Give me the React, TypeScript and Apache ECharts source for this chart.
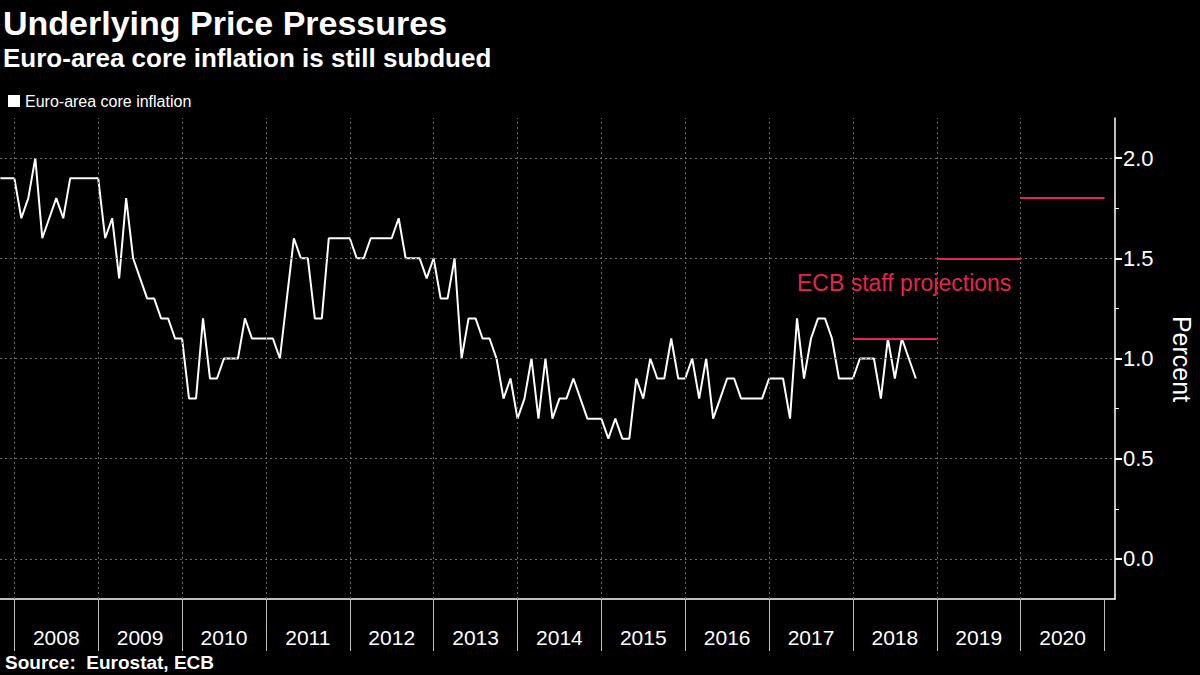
import React, { useEffect, useRef } from "react";
import * as echarts from "echarts";

// months are counted from the end of Dec 2007 (0); first value = Oct 2007
const START_MONTH = -2;
const coreInflation = [
  1.9, 1.9, 1.9,
  1.7, 1.8, 2.0, 1.6, 1.7, 1.8, 1.7, 1.9, 1.9, 1.9, 1.9, 1.9,
  1.6, 1.7, 1.4, 1.8, 1.5, 1.4, 1.3, 1.3, 1.2, 1.2, 1.1, 1.1,
  0.8, 0.8, 1.2, 0.9, 0.9, 1.0, 1.0, 1.0, 1.2, 1.1, 1.1, 1.1,
  1.1, 1.0, 1.3, 1.6, 1.5, 1.5, 1.2, 1.2, 1.6, 1.6, 1.6, 1.6,
  1.5, 1.5, 1.6, 1.6, 1.6, 1.6, 1.7, 1.5, 1.5, 1.5, 1.4, 1.5,
  1.3, 1.3, 1.5, 1.0, 1.2, 1.2, 1.1, 1.1, 1.0, 0.8, 0.9, 0.7,
  0.8, 1.0, 0.7, 1.0, 0.7, 0.8, 0.8, 0.9, 0.8, 0.7, 0.7, 0.7,
  0.6, 0.7, 0.6, 0.6, 0.9, 0.8, 1.0, 0.9, 0.9, 1.1, 0.9, 0.9,
  1.0, 0.8, 1.0, 0.7, 0.8, 0.9, 0.9, 0.8, 0.8, 0.8, 0.8, 0.9,
  0.9, 0.9, 0.7, 1.2, 0.9, 1.1, 1.2, 1.2, 1.1, 0.9, 0.9, 0.9,
  1.0, 1.0, 1.0, 0.8, 1.1, 0.9, 1.1, 1.0, 0.9,
];
const yearLabels = ["2008", "2009", "2010", "2011", "2012", "2013", "2014", "2015", "2016", "2017", "2018", "2019", "2020"];
const projYearIndex = [10, 11, 12]; // 2018, 2019, 2020
const projValues = [1.1, 1.5, 1.8];
const yTicks = [0, 0.5, 1.0, 1.5, 2.0];
const yMinorTicks = [0.25, 0.75, 1.25, 1.75];

const FONT = '"Liberation Sans", Arial, sans-serif';
const RED = "#e3264c";

export default function App() {
  const ref = useRef<HTMLDivElement>(null);
  useEffect(() => {
    document.body.style.margin = "0";
    const chart = echarts.init(ref.current!, null, { renderer: "svg" });
    const seriesData = coreInflation.map((v, i) => [START_MONTH + i, v]);
    const yearBounds = yearLabels.map((_, i) => i * 12).concat([yearLabels.length * 12]);
    const gridBounds = yearLabels.map((_, i) => i * 12);
    const labelPos = yearLabels.map((_, i) => i * 12 + 6);
    const gridStyle = { color: "#6a6a6a", type: [2, 3], width: 1 };

    chart.setOption({
      animation: false,
      backgroundColor: "#000",
      textStyle: { fontFamily: FONT },
      grid: { left: 0, right: 85, top: 118, bottom: 76 },
      legend: {
        left: 3,
        top: 88,
        icon: "rect",
        itemWidth: 12,
        itemHeight: 12,
        itemGap: 10,
        textStyle: { color: "#fff", fontSize: 16, fontFamily: FONT },
        data: ["Euro-area core inflation"],
      },
      xAxis: {
        type: "value",
        min: -2.05,
        max: 157.5,
        axisLine: { show: true, onZero: false, lineStyle: { color: "#fff", width: 1.5 } },
        axisTick: {
          show: true,
          customValues: yearBounds,
          length: 52,
          lineStyle: { color: "#bdbdbd", width: 1 },
        },
        axisLabel: {
          customValues: labelPos,
          color: "#fff",
          fontSize: 21,
          margin: 28,
          fontFamily: FONT,
          formatter: (v: number) => yearLabels[Math.round((v - 6) / 12)] ?? "",
        },
        splitLine: { show: false },
      },
      yAxis: [
        {
          type: "value",
          position: "right",
          min: -0.2,
          max: 2.2,
          axisLine: { show: true, onZero: false, lineStyle: { color: "#fff", width: 1.5 } },
          axisTick: { show: true, customValues: yTicks, length: 7, lineStyle: { color: "#fff", width: 2 } },
          axisLabel: {
            customValues: yTicks,
            color: "#fff",
            fontSize: 22,
            margin: 8,
            fontFamily: FONT,
            formatter: (v: number) => v.toFixed(1),
          },
          splitLine: { show: false },
        },
        {
          type: "value",
          position: "right",
          min: -0.2,
          max: 2.2,
          axisLine: { show: false, onZero: false },
          axisTick: { show: true, customValues: yMinorTicks, length: 4, lineStyle: { color: "#fff", width: 1 } },
          axisLabel: { show: false },
          splitLine: { show: false },
        },
      ],
      series: [
        {
          name: "grid",
          type: "line",
          data: [],
          z: 1,
          silent: true,
          markLine: {
            silent: true,
            symbol: ["none", "none"],
            label: { show: false },
            lineStyle: gridStyle,
            data: [
              ...gridBounds.map((x) => ({ xAxis: x, lineStyle: gridStyle })),
              ...yTicks.map((y) => ({ yAxis: y, lineStyle: gridStyle })),
            ],
          },
        },
        {
          name: "ECB staff projections",
          type: "line",
          data: [],
          z: 2,
          silent: true,
          markLine: {
            silent: true,
            symbol: ["none", "none"],
            label: { show: false },
            lineStyle: { color: RED, width: 2, type: "solid" },
            data: projYearIndex.map((yi, k) => [
              { coord: [yi * 12, projValues[k]] },
              { coord: [(yi + 1) * 12, projValues[k]] },
            ]),
          },
        },
        {
          name: "Euro-area core inflation",
          type: "line",
          data: seriesData,
          showSymbol: false,
          symbol: "none",
          z: 3,
          color: "#fff",
          lineStyle: { color: "#fff", width: 2 },
          itemStyle: { color: "#fff" },
        },
      ],
      graphic: [
        {
          type: "text",
          left: 3,
          top: 6,
          style: { text: "Underlying Price Pressures", fill: "#fff", font: `bold 34px ${FONT}` },
        },
        {
          type: "text",
          left: 3,
          top: 45,
          style: { text: "Euro-area core inflation is still subdued", fill: "#fff", font: `bold 26px ${FONT}` },
        },
        {
          type: "text",
          left: 5,
          top: 653,
          style: { text: "Source:  Eurostat, ECB", fill: "#fff", font: `bold 19px ${FONT}` },
        },
        {
          type: "text",
          left: 797,
          top: 271,
          style: { text: "ECB staff projections", fill: RED, font: `23px ${FONT}` },
        },
        {
          type: "text",
          x: 1182,
          y: 359,
          rotation: -Math.PI / 2,
          style: {
            text: "Percent",
            fill: "#fff",
            font: `25px ${FONT}`,
            textAlign: "center",
            textVerticalAlign: "middle",
          },
        },
      ],
    });
    return () => chart.dispose();
  }, []);
  return (
    <div
      ref={ref}
      style={{ position: "absolute", left: 0, top: 0, width: 1200, height: 675, background: "#000" }}
    />
  );
}
